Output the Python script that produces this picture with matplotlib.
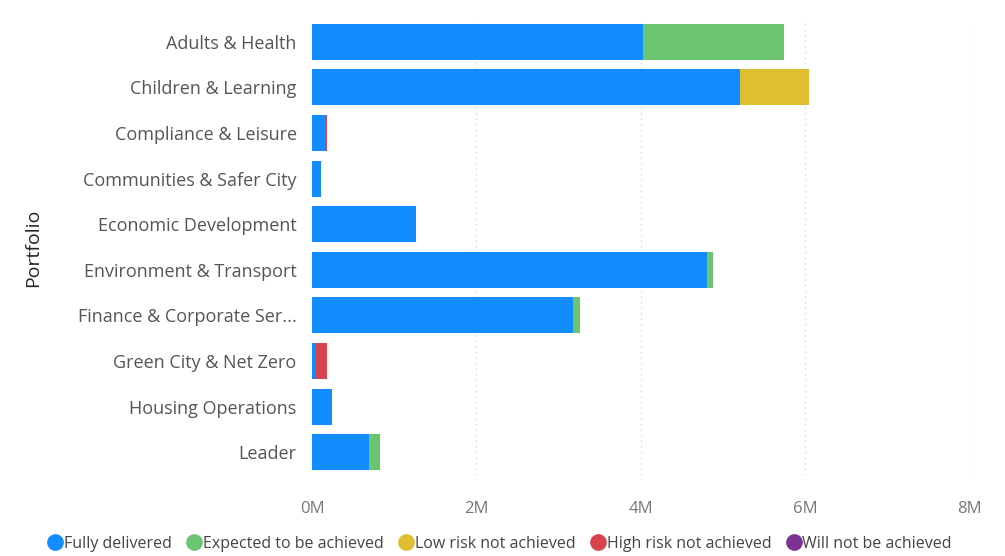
import numpy as np
import matplotlib.pyplot as plt
from matplotlib.lines import Line2D
from matplotlib.ticker import FuncFormatter

plt.rcParams['font.family'] = ['Open Sans', 'DejaVu Sans']

portfolios = [
    "Adults & Health",
    "Children & Learning",
    "Compliance & Leisure",
    "Communities & Safer City",
    "Economic Development",
    "Environment & Transport",
    "Finance & Corporate Ser...",
    "Green City & Net Zero",
    "Housing Operations",
    "Leader",
]

statuses = [
    "Fully delivered",
    "Expected to be achieved",
    "Low risk not achieved",
    "High risk not achieved",
    "Will not be achieved",
]
colors = ["#118DFF", "#6BC46F", "#DFBE2F", "#D9434E", "#7E3294"]

# values in millions, one list per status
fully_delivered = [4.02, 5.20, 0.16, 0.11, 1.26, 4.80, 3.18, 0.04, 0.24, 0.69]
expected = [1.72, 0.00, 0.00, 0.00, 0.00, 0.08, 0.08, 0.00, 0.00, 0.14]
low_risk = [0.00, 0.84, 0.00, 0.00, 0.00, 0.00, 0.00, 0.00, 0.00, 0.00]
high_risk = [0.00, 0.00, 0.02, 0.00, 0.00, 0.00, 0.00, 0.14, 0.00, 0.00]
will_not = [0.00, 0.00, 0.00, 0.00, 0.00, 0.00, 0.00, 0.00, 0.00, 0.00]

series = [fully_delivered, expected, low_risk, high_risk, will_not]

fig = plt.figure(figsize=(10.05, 5.56), dpi=100)
ax = fig.add_axes([0.3104, 0.1457, 0.6547, 0.8201])

y = np.arange(len(portfolios))
left = np.zeros(len(portfolios))
for vals, col in zip(series, colors):
    vals = np.array(vals) * 1e6
    ax.barh(y, vals, left=left, height=0.79, color=col, zorder=3)
    left += vals

ax.set_ylim(len(portfolios) - 0.5, -0.5)
ax.set_yticks(y)
ax.set_yticklabels(portfolios, fontsize=13, color="#555555")
ax.set_xlim(0, 8e6)
ax.set_xticks([0, 2e6, 4e6, 6e6, 8e6])
ax.xaxis.set_major_formatter(FuncFormatter(lambda v, p: f"{v / 1e6:.0f}M"))
ax.tick_params(axis="x", labelsize=12, colors="#777777", length=0, pad=19)
ax.tick_params(axis="y", length=0, pad=11)

for xv in [2e6, 4e6, 6e6, 8e6]:
    ax.axvline(xv, color="#d8d8d8", linestyle=(0, (1, 3)), linewidth=1, zorder=1)

for s in ax.spines.values():
    s.set_visible(False)

fig.text(0.033, 0.555, "Portfolio", rotation=90, fontsize=14, color="#252423",
         ha="center", va="center")

handles = [Line2D([0], [0], marker="o", linestyle="", markersize=11,
                  markerfacecolor=c, markeredgecolor=c) for c in colors]
fig.legend(handles, statuses, loc="center", bbox_to_anchor=(0.497, 0.022), ncol=5,
           frameon=False, fontsize=11.5, handletextpad=0.05, columnspacing=0.9,
           labelcolor="#444444", handlelength=1.0)

fig.savefig("out.png", dpi=100)
